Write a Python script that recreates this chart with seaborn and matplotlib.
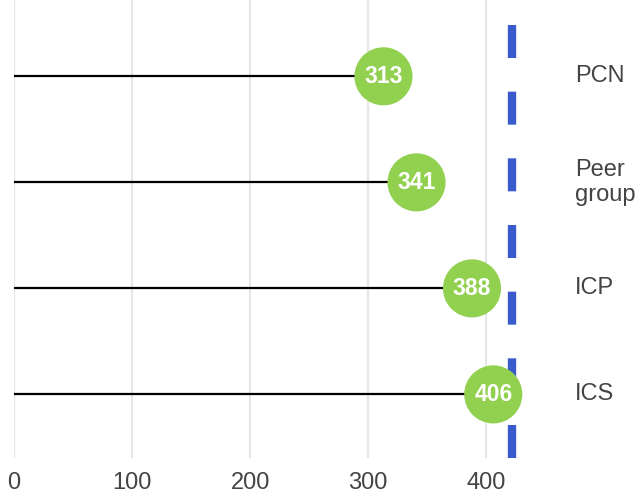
import pandas as pd
import numpy as np
import matplotlib
matplotlib.use('Agg')
import matplotlib.pyplot as plt
import seaborn as sns

# --- Data ---
categories = ['PCN', 'Peer\ngroup', 'ICP', 'ICS']
values = [313, 341, 388, 406]
target = 422

df = pd.DataFrame({'category': categories, 'value': values, 'pos': np.arange(len(categories))})

sns.set_style('white')
plt.rcParams['font.family'] = ['Liberation Sans', 'DejaVu Sans']

fig = plt.figure(figsize=(6.44, 4.98), dpi=100)
ax = fig.add_axes([14 / 644, 40 / 498, 543 / 644, 458 / 498])

# gridlines
for t in [0, 100, 200, 300, 400]:
    ax.axvline(t, color='#e6e6e6', lw=1.5, zorder=0)

# stems
ax.hlines(df['pos'], 0, df['value'], color='black', lw=1.6, zorder=1)

# target line (dashes drawn from bottom up)
ax.axvline(target, ymin=0, ymax=(458 - 25) / 458, color='#3a5bcc', lw=6,
           dashes=(3.96, 4.04), dash_capstyle='butt', zorder=3)

# circles
sns.scatterplot(data=df, x='value', y='pos', s=1750, color='#92d050',
                edgecolor='none', ax=ax, zorder=4, legend=False)
for v, p in zip(df['value'], df['pos']):
    ax.text(v, p, str(v), color='white', fontsize=16.5, fontweight='bold',
            ha='center', va='center', zorder=5)

ax.set_xlim(0, 460)
ax.set_ylim(3.6, -0.72)
ax.set_xticks([0, 100, 200, 300, 400])
ax.tick_params(axis='x', labelsize=17, labelcolor='#444444', length=0, pad=10)
ax.set_yticks([])
ax.set_xlabel('')
ax.set_ylabel('')
for s in ax.spines.values():
    s.set_visible(False)

# right-hand category labels
for c, p in zip(df['category'], df['pos']):
    ax.text(1.033, p, c, transform=ax.get_yaxis_transform(), fontsize=17,
            color='#444444', ha='left', va='center', linespacing=1.2)

fig.savefig('out.png', dpi=100)
